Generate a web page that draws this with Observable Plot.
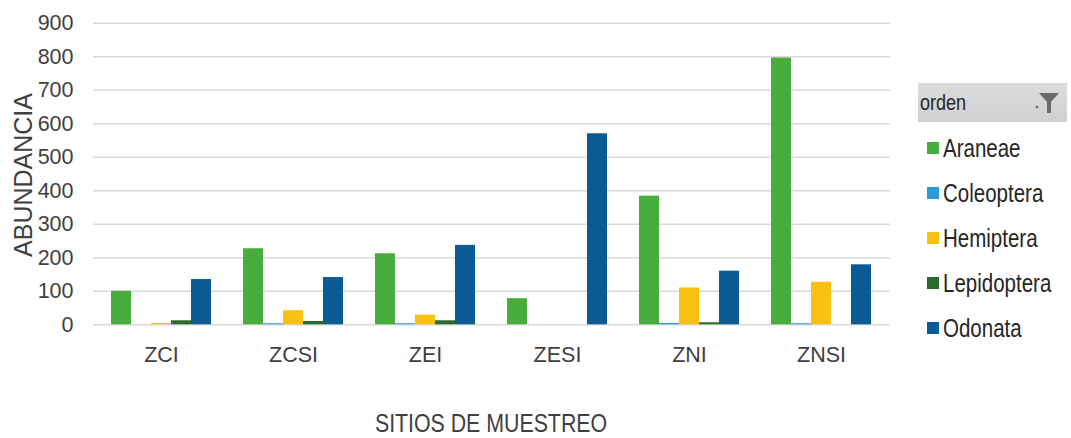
<!DOCTYPE html>
<html>
<head>
<meta charset="utf-8">
<script src="https://cdn.jsdelivr.net/npm/d3@7"></script>
<script src="https://cdn.jsdelivr.net/npm/@observablehq/plot@0.6"></script>
<style>
  html, body { margin: 0; padding: 0; background: #fff; }
  #wrap { position: relative; width: 1071px; height: 438px; overflow: hidden;
          font-family: "Liberation Sans", Arial, sans-serif; color: #404040; }
  #wrap > svg, #wrap > div > svg { position: absolute; left: 0; top: 0; }
  .title { position: absolute; white-space: nowrap; line-height: 1; color: #404040; }
  #ytitle { left: 23px; top: 175px; font-size: 25px; transform: translate(-50%, -50%) rotate(-90deg); }
  #xtitle { left: 491px; top: 423px; font-size: 26px; transform: translate(-50%, -50%) scaleX(0.82); }
  #legend { position: absolute; left: 918px; top: 83px; width: 149px; }
  #legend .head { height: 39px; background: linear-gradient(#dcdcdc, #d0d0d0); position: relative;
                  color: #262626; line-height: 39px; padding-left: 2px; }
  #legend .head span { display: inline-block; font-size: 22px; transform: scaleX(0.82); transform-origin: left center; }
  #legend .head svg { position: absolute; left: 116px; top: 9px; }
  #legend .row { height: 45px; display: flex; align-items: center; margin-left: 9px; color: #262626; }
  #legend .row:nth-child(2) { margin-top: 3.5px; }
  #legend .row span.t { display: inline-block; font-size: 25px; line-height: 1; transform: scaleX(0.82); transform-origin: left center; white-space: nowrap; }
  #legend .sw { width: 12px; height: 12px; margin-right: 4px; flex: none; }
</style>
</head>
<body>
<div id="wrap">
  <div id="chart"></div>
  <div class="title" id="ytitle">ABUNDANCIA</div>
  <div class="title" id="xtitle">SITIOS DE MUESTREO</div>
  <div id="legend"></div>
</div>
<script>
const sites = ["ZCI", "ZCSI", "ZEI", "ZESI", "ZNI", "ZNSI"];
const orders = ["Araneae", "Coleoptera", "Hemiptera", "Lepidoptera", "Odonata"];
const araneae     = [100, 227, 212,  78, 384, 796];
const coleoptera  = [  0,   3,   3,   0,   4,   3];
const hemiptera   = [  4,  42,  29,   0, 110, 127];
const lepidoptera = [ 12,  10,  12,   0,   6,   0];
const odonata     = [135, 141, 237, 570, 160, 179];
const yTicks = [0, 100, 200, 300, 400, 500, 600, 700, 800, 900];
const colors = ["#48ad3d", "#2e9ad6", "#fbc112", "#2a6a2a", "#0b5b93"];
const legendTitle = "orden";

const seriesValues = [araneae, coleoptera, hemiptera, lepidoptera, odonata];
const data = [];
sites.forEach((s, i) => orders.forEach((o, j) => data.push({site: s, orden: o, value: seriesValues[j][i]})));

const common = {
  width: 1071,
  height: 438,
  marginLeft: 93,
  marginRight: 181,
  marginTop: 22.7,
  marginBottom: 113.7,
  style: {
    fontFamily: '"Liberation Sans", Arial, sans-serif',
    fontSize: "21px",
    color: "#404040",
    background: "transparent"
  },
  y: {domain: [0, 900], label: null}
};

// layer 1: continuous gridlines + y axis
const grid = Plot.plot({
  ...common,
  marks: [
    Plot.ruleY(yTicks, {stroke: "#d9d9d9", strokeWidth: 1.6}),
    Plot.axisY(yTicks, {tickSize: 0, tickPadding: 20, fontSize: 21.5, fill: "#404040", label: null})
  ]
});

// layer 2: grouped bars faceted by site
const bars = Plot.plot({
  ...common,
  fx: {domain: sites, paddingInner: 0.224, paddingOuter: 0.112, label: null},
  x: {domain: orders, padding: 0, axis: null},
  y: {domain: [0, 900], axis: null},
  color: {domain: orders, range: colors},
  marks: [
    Plot.axisFx({anchor: "bottom", tickSize: 0, tickPadding: 22, fontSize: 21.5, fill: "#404040", label: null}),
    Plot.barY(data, {fx: "site", x: "orden", y: "value", fill: "orden"})
  ]
});

const holder = document.getElementById("chart");
holder.appendChild(grid);
holder.appendChild(bars);

// legend
const legend = document.getElementById("legend");
const head = document.createElement("div");
head.className = "head";
head.innerHTML = '<span>' + legendTitle + '</span>' +
  '<svg width="26" height="22" viewBox="0 0 26 22"><circle cx="3" cy="15" r="1.3" fill="#666"/>' +
  '<polygon points="5,1 25,1 17,10 17,21 13,21 13,10" fill="#6b6b6b"/></svg>';
legend.appendChild(head);
orders.forEach((o, i) => {
  const row = document.createElement("div");
  row.className = "row";
  const sw = document.createElement("span");
  sw.className = "sw";
  sw.style.background = colors[i];
  const t = document.createElement("span");
  t.className = "t";
  t.textContent = o;
  row.appendChild(sw);
  row.appendChild(t);
  legend.appendChild(row);
});
</script>
</body>
</html>
